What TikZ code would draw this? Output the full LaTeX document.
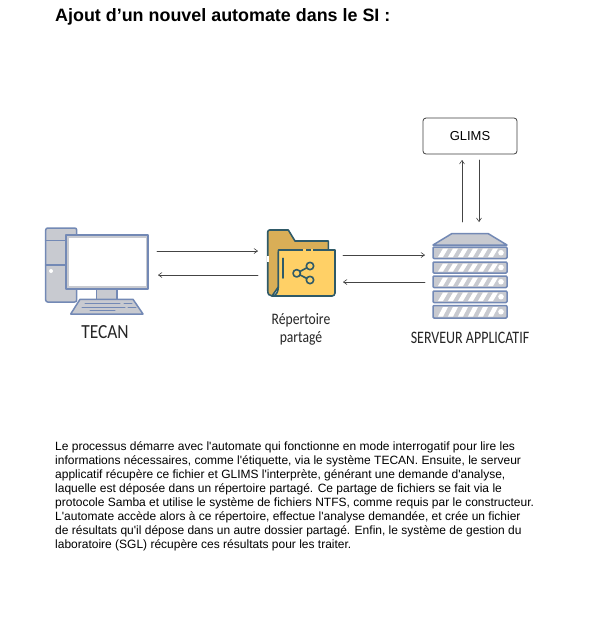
\documentclass[tikz,border=0pt]{standalone}
\usepackage{fontspec}
\usetikzlibrary{arrows.meta}
\newfontfamily\arialfont{Liberation Sans}
\newfontfamily\calibrifont{Carlito}
\definecolor{iconblue}{HTML}{7389B5}
\definecolor{icongray}{HTML}{C8CAD0}
\definecolor{folderline}{HTML}{2F5A68}
\definecolor{folderback}{HTML}{D9AE57}
\definecolor{folderfront}{HTML}{FFD066}
\definecolor{linkgray}{HTML}{444444}
\tikzset{
	iconpart/.style={draw=iconblue,fill=icongray,line width=1.5pt,line join=round},
	folderpart/.style={draw=folderline,line width=1.6pt,line join=round,line cap=round},
	link/.style={->,draw=linkgray,line width=0.6pt},
	iconlabel/.style={text=black!85,inner sep=0pt,align=center}
}
\begin{document}
\begin{tikzpicture}[line cap=round,line join=round,>={Straight Barb[length=3.5pt,width=5pt]},x=1pt,y=-1pt]
		\useasboundingbox (0,0) rectangle (591,625);
		\fill[white] (0,0) rectangle (591,625);
		% titre
		\node (titre) [anchor=west,inner sep=0pt,font=\arialfont\bfseries\fontsize{17.9}{20}\selectfont] at (55,17) {Ajout d’un nouvel automate dans le SI :};
		% poste TECAN
		\draw [iconpart,rounded corners=2pt] (45.7,228) rectangle (76.7,302);
		\draw [iconblue,line width=1.5pt] (45.7,240.7)-- (66,240.7);
		\draw [iconblue,line width=1.5pt] (45.7,265)-- (66,265);
		\fill [white] (51,271) circle (2pt);
		\draw [iconpart] (96.7,289) rectangle (117,299.3);
		\draw [iconpart] (80,299.3)-- (133,299.3)-- (143,314)-- (70.7,314)-- cycle;
		\draw [iconblue,line width=1pt] (85,303)-- (120,303);
		\draw [iconblue,line width=1pt] (124,303)-- (132,303);
		\draw [iconblue,line width=1pt] (82,307)-- (125,307);
		\draw [iconblue,line width=1pt] (128,307)-- (136,307);
		\draw [iconblue,line width=1pt] (90,310.5)-- (115,310.5);
		\draw [draw=iconblue,fill=icongray,line width=1.5pt] (66,235) rectangle (148,289);
		\fill [white] (69,238) rectangle (146,286);
		\node (tecan) [iconlabel,xscale=0.87,font=\calibrifont\fontsize{20}{22}\selectfont] at (105,332) {TECAN};
		% repertoire
		\draw [folderpart,fill=folderback] (272,296) .. controls (269,296) and (267.7,294) .. (267.7,290)-- (267.7,232) arc (180:90:2pt)-- (288.3,230)-- (295,241)-- (328.3,241)-- (328.3,252)-- (278.3,252)-- (278.3,287)-- cycle;
		\draw [folderpart,fill=folderfront] (278.3,250)-- (335,250)-- (335,293) arc (0:-90:3pt)-- (272,296) .. controls (276,296) and (278.3,292) .. (278.3,287)-- cycle;
		\fill [white] (266.5,256) rectangle (269,262);
		\fill [folderfront] (303,249) rectangle (306,251);
		\fill [folderfront] (311,249) rectangle (313,251);
		\draw [folderpart] (282.7,258.3)-- (282.7,278);
		\draw [folderpart] (310,266)-- (296.7,273.3)-- (310,280);
		\draw [folderpart,fill=folderfront] (310,266) circle (3.7pt);
		\draw [folderpart,fill=folderfront] (296.7,273.3) circle (3.7pt);
		\draw [folderpart,fill=folderfront] (310,280) circle (3.7pt);
		\node (repertoire) [iconlabel,xscale=0.85,font=\calibrifont\fontsize{16}{18}\selectfont] at (301,329) {Répertoire\\partagé};
		% serveur
		\draw [iconpart] (433,245)-- (452,233.5)-- (488,233.5)-- (507,245)-- cycle;
		\foreach \ytop/\ybot in {247/258.5,262/273,276/287.5,291/302.5,305.5/318}{
			\draw [iconpart,rounded corners=1pt] (433,\ytop) rectangle (507,\ybot);
			\foreach \xs in {438,448,458,468,478,488}{
				\fill [white] (\xs,\ybot-1.5)-- (\xs+5,\ybot-1.5)-- (\xs+10,\ytop+1.5)-- (\xs+5,\ytop+1.5)-- cycle;
			}
			\fill [white] (501,{(\ytop+\ybot)/2}) circle (2.8pt);
		}
		\node (serveur) [iconlabel,xscale=0.8,font=\calibrifont\fontsize{17.5}{19}\selectfont] at (470,338) {SERVEUR APPLICATIF};
		% GLIMS
		\node (glims) [draw=black!75,rounded corners=3pt,line width=0.8pt,minimum width=94pt,minimum height=36pt,inner sep=0pt,font=\arialfont\fontsize{13}{15}\selectfont,text=black] at (470,136) {GLIMS};
		% points d'accroche
		\coordinate (tecanHaut) at (157,251);
		\coordinate (repGaucheHaut) at (258,251);
		\coordinate (repGaucheBas) at (258,275);
		\coordinate (tecanBas) at (158,275);
		\coordinate (repDroitHaut) at (343,255);
		\coordinate (srvHaut) at (425,255);
		\coordinate (srvBas) at (425,282);
		\coordinate (repDroitBas) at (343,282);
		\coordinate (srvG) at (462,222);
		\coordinate (glimsG) at (462,160);
		\coordinate (glimsD) at (479,160);
		\coordinate (srvD) at (479,222);
		\draw [link] (tecanHaut)-- (repGaucheHaut);
		\draw [link] (repGaucheBas)-- (tecanBas);
		\draw [link] (repDroitHaut)-- (srvHaut);
		\draw [link] (srvBas)-- (repDroitBas);
		\draw [link] (srvG)-- (glimsG);
		\draw [link] (glimsD)-- (srvD);
		% texte
		\node (texte) [anchor=north west,inner sep=0pt,align=left,font=\arialfont\fontsize{12}{14}\selectfont] at (55,441.3) {Le processus démarre avec l'automate qui fonctionne en mode interrogatif pour lire les\\
informations nécessaires, comme l'étiquette, via le système TECAN. Ensuite, le serveur\\
applicatif récupère ce fichier et GLIMS l'interprète, générant une demande d'analyse,\\
laquelle est déposée dans un répertoire partagé. Ce partage de fichiers se fait via le\\
protocole Samba et utilise le système de fichiers NTFS, comme requis par le constructeur.\\
L'automate accède alors à ce répertoire, effectue l'analyse demandée, et crée un fichier\\
de résultats qu'il dépose dans un autre dossier partagé. Enfin, le système de gestion du\\
laboratoire (SGL) récupère ces résultats pour les traiter.};
	\end{tikzpicture}
\end{document}
